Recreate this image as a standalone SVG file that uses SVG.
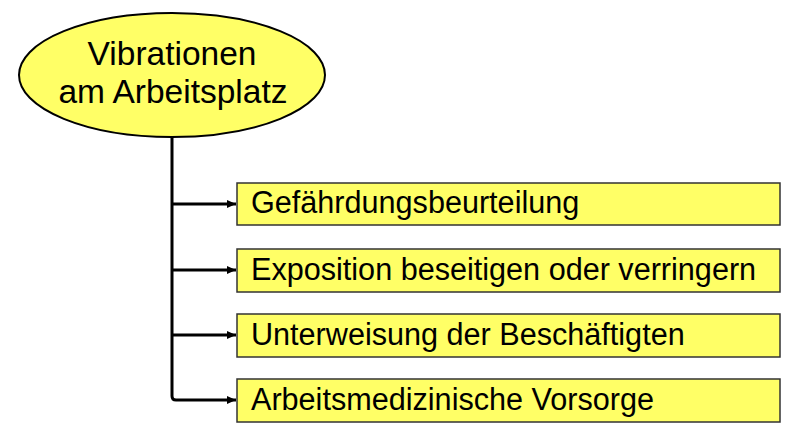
<svg xmlns="http://www.w3.org/2000/svg" width="800" height="444" viewBox="0 0 800 444">
<defs>
<style>
.box{fill:#ffff66;stroke:#333;stroke-width:1.5}
.lbl{font-family:"Liberation Sans",Arial,sans-serif;font-size:30.6px;fill:#000}
.conn{fill:none;stroke:#000;stroke-width:3}
</style>
<marker id="ah" markerWidth="10" markerHeight="10" refX="9" refY="5" orient="auto" markerUnits="userSpaceOnUse">
<path d="M0,1 L9,5 L0,9 Z" fill="#000"/>
</marker>
</defs>
<rect width="800" height="444" fill="#fff"/>
<g id="connectors">
<path class="conn" d="M172,137 V396 Q172,400 176,400 H236" marker-end="url(#ah)"/>
<path class="conn" d="M172,204 H236" marker-end="url(#ah)"/>
<path class="conn" d="M172,270 H236" marker-end="url(#ah)"/>
<path class="conn" d="M172,335 H236" marker-end="url(#ah)"/>
</g>
<g id="root">
<ellipse cx="172" cy="75" rx="153" ry="62" fill="#ffff66" stroke="#000" stroke-width="2"/>
<text x="172" y="65" text-anchor="middle" font-family="'Liberation Sans',Arial,sans-serif" font-size="33.5" fill="#000">Vibrationen</text>
<text x="173" y="103" text-anchor="middle" font-family="'Liberation Sans',Arial,sans-serif" font-size="33.5" fill="#000">am Arbeitsplatz</text>
</g>
<g id="n1">
<rect class="box" x="237" y="183" width="543" height="42"/>
<text class="lbl" x="251" y="213">Gefährdungsbeurteilung</text>
</g>
<g id="n2">
<rect class="box" x="237" y="249" width="543" height="43"/>
<text class="lbl" x="251" y="280">Exposition beseitigen oder verringern</text>
</g>
<g id="n3">
<rect class="box" x="237" y="314" width="543" height="43"/>
<text class="lbl" x="251" y="345">Unterweisung der Beschäftigten</text>
</g>
<g id="n4">
<rect class="box" x="237" y="379" width="543" height="43"/>
<text class="lbl" x="251" y="410">Arbeitsmedizinische Vorsorge</text>
</g>
</svg>
